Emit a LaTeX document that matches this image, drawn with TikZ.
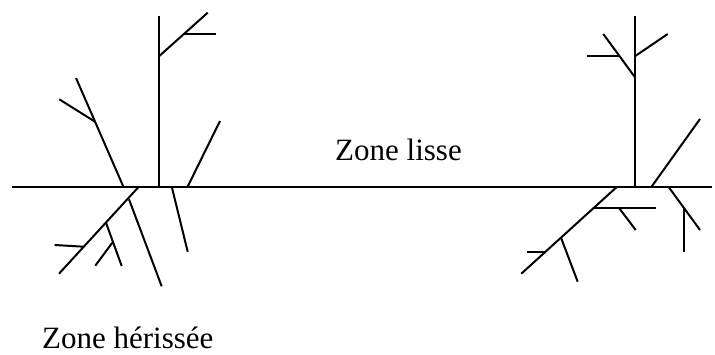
\documentclass[tikz,border=0pt]{standalone}
\usepackage{fontspec}
\setmainfont{Liberation Serif}
\begin{document}
\begin{tikzpicture}[x=1pt,y=-1pt,
  stroke/.style={line width=2pt,line cap=butt},
  lbl/.style={anchor=base west,inner sep=0pt,font=\fontsize{31}{36}\selectfont}]
\useasboundingbox (0,0) rectangle (715,354);
% ground line
\draw[stroke] (12,186.5) -- (712,186.5);
% ---------- left cluster, above ----------
\draw[stroke] (159.3,16) -- (159.3,186.5);
\draw[stroke] (159.3,56) -- (207.7,12.7);
\draw[stroke] (183.3,34) -- (216,34);
\draw[stroke] (76,78) -- (123.3,186.5);
\draw[stroke] (59.3,99.3) -- (95,121.7);
\draw[stroke] (220,121) -- (187.7,186.5);
% ---------- left cluster, below ----------
\draw[stroke] (139,186.5) -- (59,273.7);
\draw[stroke] (129,199.3) -- (161.7,286.3);
\draw[stroke] (106,222.7) -- (121.7,266);
\draw[stroke] (112.3,242.7) -- (95.3,265.7);
\draw[stroke] (54.7,245) -- (84,246.7);
\draw[stroke] (171.7,186.5) -- (187.7,251.7);
% ---------- right cluster, above ----------
\draw[stroke] (635.3,16) -- (635.3,186.5);
\draw[stroke] (635.3,77.7) -- (603.3,34);
\draw[stroke] (587.3,56) -- (620,56);
\draw[stroke] (635.3,56) -- (667.7,34);
\draw[stroke] (700,119) -- (651.7,186.5);
% ---------- right cluster, below ----------
\draw[stroke] (617.3,186.5) -- (521.3,273.7);
\draw[stroke] (593.3,208.3) -- (656,208.3);
\draw[stroke] (619.3,208.3) -- (635.7,230);
\draw[stroke] (561,237.7) -- (577.7,281.7);
\draw[stroke] (526.7,251.7) -- (545.7,251.7);
\draw[stroke] (668.3,186.5) -- (700,230);
\draw[stroke] (683.7,208.3) -- (683.7,252.3);
% ---------- labels ----------
\node[lbl] (lisse) at (335,160) {Zone lisse};
\node[lbl] (herissee) at (42,348) {Zone hérissée};
\end{tikzpicture}
\end{document}
